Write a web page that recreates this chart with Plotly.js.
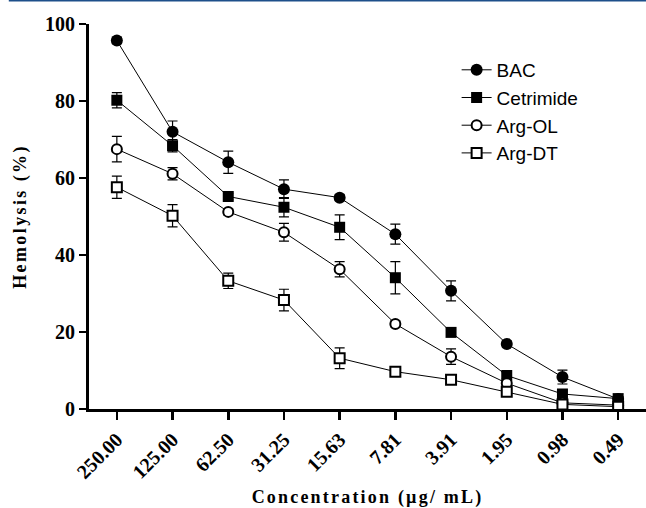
<!DOCTYPE html>
<html>
<head>
<meta charset="utf-8">
<script src="https://cdn.plot.ly/plotly-3.0.1.min.js"></script>
<style>
html,body{margin:0;padding:0;background:#fff;}
#chart{width:646px;height:508px;}
.xtitle{letter-spacing:2.2px;}
.ytitle{letter-spacing:2.4px;}
</style>
</head>
<body>
<div id="chart"></div>
<script>
const concentrations = ["250.00","125.00","62.50","31.25","15.63","7.81","3.91","1.95","0.98","0.49"];
const bac       = [95.7, 72.0, 64.1, 57.1, 54.9, 45.4, 30.7, 16.9, 8.3, 2.6];
const bacErr    = [0.8, 2.8, 2.9, 2.4, 0.8, 2.6, 2.6, 0.8, 1.8, 0.5];
const cetrimide    = [80.2, 68.4, 55.2, 52.4, 47.2, 34.1, 19.9, 8.7, 3.9, 2.7];
const cetrimideErr = [2.0, 1.6, 0.8, 2.5, 3.2, 4.2, 0.8, 0.8, 0.8, 0.5];
const argOL     = [67.5, 61.1, 51.2, 45.9, 36.3, 22.1, 13.6, 6.7, 1.6, 1.0];
const argOLErr  = [3.3, 1.6, 0.8, 2.3, 2.0, 0.8, 2.0, 0.8, 0.8, 0.5];
const argDT     = [57.6, 50.2, 33.3, 28.3, 13.2, 9.7, 7.6, 4.5, 1.2, 0.6];
const argDTErr  = [2.9, 2.9, 2.0, 2.8, 2.7, 0.8, 0.8, 0.8, 0.5, 0.5];

function series(name, y, err, symbol, size, open){
  return {
    type:'scatter', mode:'lines+markers', name:name,
    x:concentrations, y:y,
    line:{color:'#000', width:1},
    marker:{symbol:symbol, size:size, color: open ? '#fff' : '#000',
            line:{color:'#000', width: open ? 2 : 0}},
    error_y:{type:'data', array:err, visible:true, color:'#000', thickness:1.2, width:5}
  };
}

const data = [
  series('BAC', bac, bacErr, 'circle', 12, false),
  series('Cetrimide', cetrimide, cetrimideErr, 'square', 11, false),
  series('Arg-OL', argOL, argOLErr, 'circle', 10, true),
  series('Arg-DT', argDT, argDTErr, 'square', 10, true)
];

const tickFont = {family:'"Liberation Serif", "Times New Roman", serif', size:20, color:'#000', weight:'bold'};
const titleFont = {family:'"Liberation Serif", "Times New Roman", serif', size:18, color:'#000', weight:'bold'};
const layout = {
  width:646, height:508,
  margin:{l:89, r:0, t:24, b:99},
  paper_bgcolor:'#fff', plot_bgcolor:'#fff',
  showlegend:true,
  legend:{x:0.66, y:0.93, xanchor:'left', yanchor:'top',
          font:{family:'"Liberation Sans", Arial, sans-serif', size:19, color:'#000'},
          bgcolor:'rgba(0,0,0,0)', itemwidth:30, tracegroupgap:0},
  xaxis:{type:'category', range:[-0.5, 9.5], showgrid:false, zeroline:false,
         showline:true, linecolor:'#000', linewidth:3,
         ticks:'outside', ticklen:8, tickwidth:2.5, tickcolor:'#000',
         tickangle:-45, tickfont:tickFont,
         title:{text:'Concentration (µg/ mL)', font:titleFont, standoff:12}},
  yaxis:{range:[0,100], dtick:20, showgrid:false, zeroline:false,
         showline:true, linecolor:'#000', linewidth:3,
         ticks:'outside', ticklen:7, tickwidth:2.5, tickcolor:'#000',
         tickfont:tickFont,
         title:{text:'Hemolysis (%)', font:titleFont, standoff:14}},
  shapes:[{type:'line', xref:'paper', yref:'paper', x0:-0.144, x1:1, y0:1.061, y1:1.061,
           line:{color:'#1d4f8a', width:2}}]
};

Plotly.newPlot('chart', data, layout, {displayModeBar:false, staticPlot:true});
</script>
</body>
</html>
